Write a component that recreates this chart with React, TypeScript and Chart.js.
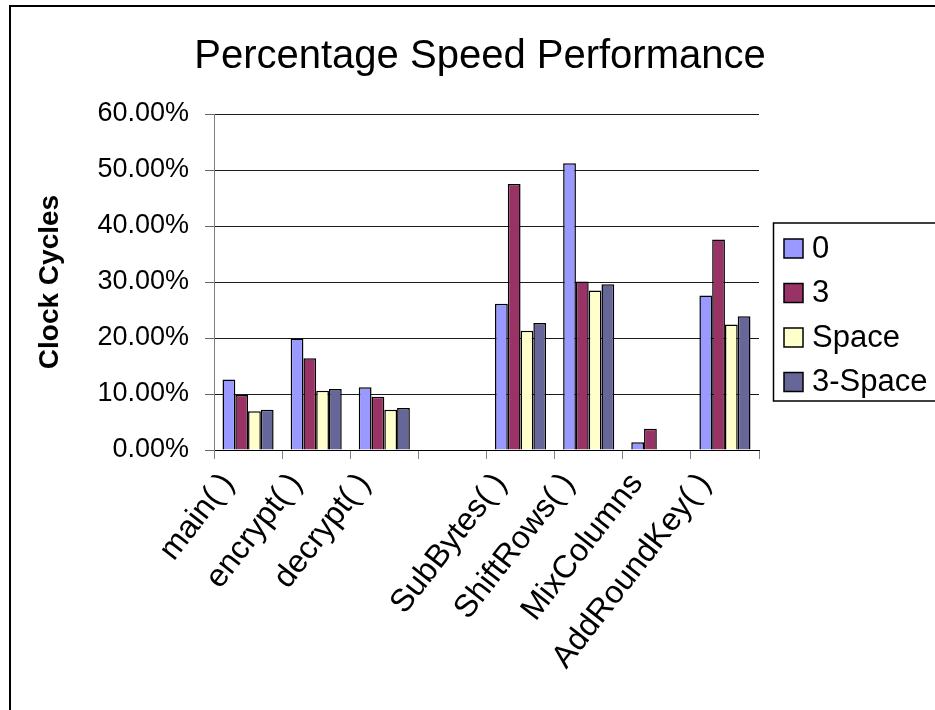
import React, { useEffect, useRef } from "react";
import { Chart, registerables } from "chart.js";

Chart.register(...registerables);

const categories = [
  "main( )",
  "encrypt( )",
  "decrypt( )",
  "",
  "SubBytes( )",
  "ShiftRows( )",
  "MixColumns",
  "AddRoundKey( )",
];
const series0 = [12.6, 19.9, 11.2, null, 26.1, 51.2, 1.4, 27.6];
const series3 = [9.8, 16.4, 9.5, null, 47.5, 30.1, 3.8, 37.6];
const seriesSpace = [6.9, 10.6, 7.2, null, 21.3, 28.5, null, 22.4];
const series3Space = [7.2, 10.9, 7.5, null, 22.7, 29.6, null, 23.9];
const seriesLabels = ["0", "3", "Space", "3-Space"];
const seriesColors = ["#9999FF", "#993366", "#FFFFCC", "#666699"];

const FONT = "'Liberation Sans', Arial, sans-serif";

const framePlugin = {
  id: "frame",
  beforeDraw(chart: any) {
    const ctx = chart.ctx;
    ctx.save();
    ctx.fillStyle = "#fff";
    ctx.fillRect(0, 0, chart.width, chart.height);
    ctx.strokeStyle = "#000";
    ctx.lineWidth = 2;
    ctx.strokeRect(10, 6, chart.width + 50, chart.height + 50);
    ctx.restore();
  },
};

const legendPlugin = {
  id: "boxLegend",
  afterDraw(chart: any) {
    const ctx = chart.ctx;
    ctx.save();
    ctx.strokeStyle = "#000";
    ctx.lineWidth = 1.5;
    ctx.strokeRect(773.5, 223, 200, 178);
    const ds = chart.data.datasets;
    ds.forEach((d: any, i: number) => {
      const cy = 248 + i * 44.5;
      ctx.fillStyle = d.backgroundColor;
      ctx.fillRect(784, cy - 9, 19, 19);
      ctx.strokeStyle = "#000";
      ctx.lineWidth = 1.5;
      ctx.strokeRect(784, cy - 9, 19, 19);
      ctx.fillStyle = "#000";
      ctx.font = `31px ${FONT}`;
      ctx.textBaseline = "middle";
      ctx.textAlign = "left";
      ctx.fillText(d.label, 812, cy + 1);
    });
    ctx.restore();
  },
};

export default function App() {
  const ref = useRef<HTMLCanvasElement | null>(null);
  useEffect(() => {
    if (!ref.current) return;
    const data = [series0, series3, seriesSpace, series3Space];
    const chart = new Chart(ref.current, {
      type: "bar",
      data: {
        labels: categories,
        datasets: data.map((vals, i) => ({
          label: seriesLabels[i],
          data: vals,
          backgroundColor: seriesColors[i],
          borderColor: "#000",
          borderWidth: 1.5,
          categoryPercentage: 0.75,
          barPercentage: 1,
          yAxisID: "y",
        })),
      },
      options: {
        responsive: false,
        animation: false,
        layout: { padding: { left: 25, right: 0, top: 0, bottom: 0 } },
        plugins: {
          legend: { display: false },
          tooltip: { enabled: false },
          title: {
            display: true,
            text: "Percentage Speed Performance",
            color: "#000",
            font: { family: FONT, size: 40, weight: "normal" },
            padding: { top: 33, bottom: 33 },
          },
        },
        scales: {
          x: {
            grid: {
              drawOnChartArea: false,
              drawTicks: true,
              tickLength: 9,
              tickColor: "#808080",
              offset: true,
            },
            border: { color: "#000", width: 1 },
            ticks: {
              color: "#000",
              font: { family: FONT, size: 32 },
              minRotation: 52,
              maxRotation: 52,
              autoSkip: false,
              padding: 7,
              labelOffset: -20,
            },
            afterFit(s: any) {
              s.height = 260;
            },
          },
          y: {
            min: 0,
            max: 60,
            ticks: {
              stepSize: 10,
              color: "#000",
              font: { family: FONT, size: 27 },
              padding: 16,
              callback: (v: any) => Number(v).toFixed(2) + "%",
            },
            grid: {
              color: "#1a1a1a",
              tickColor: "#666",
              tickLength: 9,
            },
            border: { color: "#808080", width: 1 },
            title: {
              display: true,
              text: "Clock Cycles",
              color: "#000",
              font: { family: FONT, size: 28, weight: "bold" },
              padding: { top: 8, bottom: 0 },
            },
            afterFit(s: any) {
              s.width = 189;
            },
          },
          y2: {
            position: "right",
            display: true,
            grid: { display: false, drawTicks: false },
            ticks: { display: false },
            border: { display: false },
            afterFit(s: any) {
              s.width = 176;
            },
          },
        },
      },
      plugins: [framePlugin, legendPlugin],
    } as any);
    return () => chart.destroy();
  }, []);
  return (
    <div style={{ position: "absolute", left: 0, top: 0, width: 935, height: 710 }}>
      <canvas ref={ref} width={935} height={710} style={{ width: 935, height: 710 }} />
    </div>
  );
}
